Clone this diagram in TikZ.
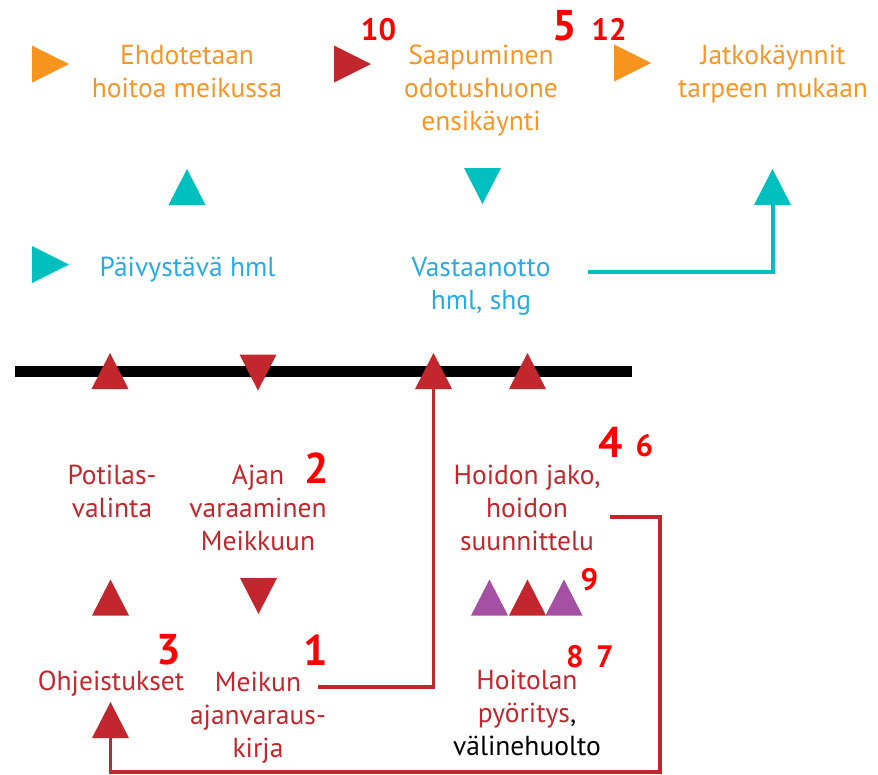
\documentclass[tikz,border=0pt]{standalone}
\usepackage{fontspec}
\setmainfont{PT Sans}
\definecolor{orangec}{RGB}{247,148,30}
\definecolor{orangetxt}{RGB}{247,150,40}
\definecolor{darkredc}{RGB}{193,39,45}
\definecolor{cyanc}{RGB}{0,191,191}
\definecolor{bluetxt}{RGB}{41,171,226}
\definecolor{purplec}{RGB}{165,80,162}
\definecolor{numred}{RGB}{255,0,0}
\tikzset{
  txt/.style={anchor=base, align=center, inner sep=0pt, font=\fontsize{27.5}{33}\selectfont},
  otxt/.style={txt, text=orangetxt},
  btxt/.style={txt, text=bluetxt},
  rtxt/.style={txt, text=darkredc},
  bignum/.style={anchor=base, inner sep=0pt, text=numred, font=\fontsize{43}{43}\selectfont\bfseries},
  smallnum/.style={anchor=base, inner sep=0pt, text=numred, font=\fontsize{31}{31}\selectfont\bfseries},
  tup/.pic={\fill[pic actions] (0,-18) -- (18.5,18) -- (-18.5,18) -- cycle;},
  tdown/.pic={\fill[pic actions] (0,18) -- (18.5,-18) -- (-18.5,-18) -- cycle;},
  tright/.pic={\fill[pic actions] (18.5,0) -- (-18.5,-18.5) -- (-18.5,18.5) -- cycle;},
  redline/.style={draw=darkredc, line width=3.5pt},
  cyanline/.style={draw=cyanc, line width=4pt},
}
\begin{document}
\begin{tikzpicture}[x=1pt,y=-1pt]
\useasboundingbox (0,0) rectangle (878,774);
% top row (multi-line nodes are placed at their last baseline)
\pic[fill=orangec] at (50.5,64) {tright};
\node[otxt] (ehd) at (187,97.5) {Ehdotetaan\\hoitoa meikussa};
\pic[fill=darkredc] at (352.5,64) {tright};
\node[smallnum] (n10) at (378.5,40) {10};
\node[otxt] (saap) at (481,130) {Saapuminen\\odotushuone\\ensikäynti};
\node[bignum] (n5) at (565,40) {5};
\node[smallnum] (n12) at (609,40) {12};
\pic[fill=orangec] at (632.5,63) {tright};
\node[otxt] (jatko) at (773,97.5) {Jatkokäynnit\\tarpeen mukaan};
% cyan row
\pic[fill=cyanc] at (187,187) {tup};
\pic[fill=cyanc] at (482.5,186) {tdown};
\pic[fill=cyanc] at (50.5,264.5) {tright};
\node[btxt] (paiv) at (187.5,276) {Päivystävä hml};
\node[btxt] (vast) at (481,309) {Vastaanotto\\hml, shg};
\pic[fill=cyanc] at (772.5,187) {tup};
\coordinate (vastout) at (588,272);
\coordinate (jatkoin) at (772.5,205);
\draw[cyanline] (vastout) -| (jatkoin);
% black line
\draw[line width=11pt] (15,371.5) -- (632,371.5);
\pic[fill=darkredc] at (110,371) {tup};
\pic[fill=darkredc] at (258,372.5) {tdown};
\pic[fill=darkredc] at (433.5,371) {tup};
\pic[fill=darkredc] at (527.5,371) {tup};
% lower block
\node[rtxt] (pot) at (112,517) {Potilas-\\valinta};
\node[rtxt] (ajan) at (258,550) {Ajan\\varaaminen\\Meikkuun};
\node[bignum] (n2) at (317,483) {2};
\node[rtxt] (hoid) at (527,550) {Hoidon jako,\\hoidon\\suunnittelu};
\node[bignum] (n4) at (610.5,457) {4};
\node[smallnum] (n6) at (644.5,456) {6};
\pic[fill=darkredc] at (110.5,597.5) {tup};
\pic[fill=darkredc] at (258.5,596) {tdown};
\pic[fill=purplec] at (489.5,597.5) {tup};
\pic[fill=darkredc] at (527.5,597.5) {tup};
\pic[fill=purplec] at (564,597.5) {tup};
\node[smallnum] (n9) at (589.5,590) {9};
\node[smallnum] (n8) at (575,667) {8};
\node[smallnum] (n7) at (605,667) {7};
\node[rtxt] (hoit) at (527,755) {Hoitolan\\pyöritys{\color{black},}\\{\color{black}välinehuolto}};
\node[rtxt] (ohj) at (111,690) {Ohjeistukset};
\node[bignum] (n3) at (169,664) {3};
\node[rtxt] (meik) at (258,757) {Meikun\\ajanvaraus-\\kirja};
\node[bignum] (n1) at (315.5,665) {1};
\pic[fill=darkredc] at (110.5,720) {tup};
% red connectors
\coordinate (meikout) at (318,687);
\coordinate (barin) at (433.5,389);
\draw[redline] (meikout) -| (barin);
\coordinate (hoidout) at (610,517);
\coordinate (corner) at (660,772);
\coordinate (ohjin) at (110.5,738);
\draw[redline] (hoidout) -| (corner) -| (ohjin);
\end{tikzpicture}
\end{document}
